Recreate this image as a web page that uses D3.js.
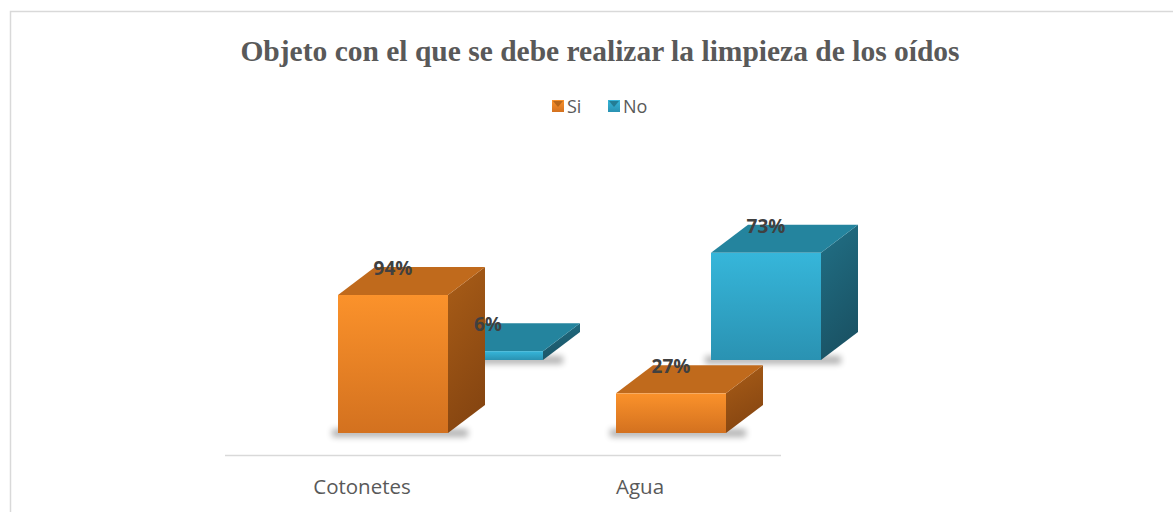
<!DOCTYPE html>
<html lang="en">
<head>
<meta charset="UTF-8" />
<title>Objeto con el que se debe realizar la limpieza de los oídos</title>
<script src="https://cdn.jsdelivr.net/npm/d3@7"></script>
<style>
  body { margin: 0; background: #fff; }
  svg { display: block; }
</style>
</head>
<body>
<div id="chart"></div>
<script>
const categories = ["Cotonetes", "Agua"];
const seriesNames = ["Si", "No"];
const siValues = [94, 27];
const noValues = [6, 73];

const width = 1173, height = 512;
const series = [
  { name: seriesNames[0], values: siValues, front: ["#fb922b", "#d3711f"], top: "#c06a1c", side: ["#a95d17", "#874611"] },
  { name: seriesNames[1], values: noValues, front: ["#36b6da", "#2a92b2"], top: "#24849e", side: ["#217086", "#1a5365"] }
];

const svg = d3.select("#chart").append("svg")
  .attr("width", width).attr("height", height);

// outer border
svg.append("rect")
  .attr("x", 10.5).attr("y", 11.5)
  .attr("width", width + 10).attr("height", height + 10)
  .attr("fill", "none").attr("stroke", "#d9d9d9").attr("stroke-width", 1.5);

const defs = svg.append("defs");
series.forEach((s, i) => {
  const gf = defs.append("linearGradient").attr("id", "front" + i)
    .attr("x1", 0).attr("y1", 0).attr("x2", 0).attr("y2", 1);
  gf.append("stop").attr("offset", "0%").attr("stop-color", s.front[0]);
  gf.append("stop").attr("offset", "100%").attr("stop-color", s.front[1]);
  const gs = defs.append("linearGradient").attr("id", "side" + i)
    .attr("x1", 0).attr("y1", 0).attr("x2", 0.3).attr("y2", 1);
  gs.append("stop").attr("offset", "0%").attr("stop-color", s.side[0]);
  gs.append("stop").attr("offset", "100%").attr("stop-color", s.side[1]);
});
defs.append("filter").attr("id", "blur")
  .attr("x", "-20%").attr("y", "-100%").attr("width", "140%").attr("height", "300%")
  .append("feGaussianBlur").attr("stdDeviation", 3);

// title
svg.append("text")
  .attr("x", 600).attr("y", 61)
  .attr("text-anchor", "middle")
  .attr("font-family", "'Liberation Serif', 'Times New Roman', serif")
  .attr("font-weight", "bold").attr("font-size", 29.5)
  .attr("fill", "#595959")
  .text("Objeto con el que se debe realizar la limpieza de los oídos");

// legend
const legend = svg.append("g").attr("font-family", "'Open Sans', 'Liberation Sans', sans-serif")
  .attr("font-size", 18).attr("fill", "#595959");
const legendX = [552, 608];
series.forEach((s, i) => {
  const g = legend.append("g").attr("transform", `translate(${legendX[i]},100)`);
  g.append("rect").attr("width", 12).attr("height", 12).attr("fill", `url(#front${i})`);
  g.append("path").attr("d", "M1,1 L11,1 L6,7 Z").attr("fill", s.side[0]).attr("opacity", 0.8);
  g.append("text").attr("x", 15).attr("y", 13).text(s.name);
});

// scales
const plotLeft = 225, plotRight = 781, baseY = 433;
const x = d3.scaleBand().domain(categories).range([plotLeft, plotRight]);
const h = d3.scaleLinear().domain([0, 100]).range([0, 146.8]);
const depth = d3.scaleLinear().domain([0, 1]).range([0, 1]); // series row index
const rowDx = 95, rowDy = -73;   // offset between series rows
const barW = 110, barDx = 37, barDy = -28;
const frontOffset = 113;

// axis line
svg.append("line")
  .attr("x1", plotLeft).attr("x2", plotRight)
  .attr("y1", 455.5).attr("y2", 455.5)
  .attr("stroke", "#d9d9d9").attr("stroke-width", 1.5);

// category labels
svg.append("g").selectAll("text").data(categories).join("text")
  .attr("x", d => x(d) + x.bandwidth() / 2 - 2)
  .attr("y", 494)
  .attr("text-anchor", "middle")
  .attr("font-family", "'Open Sans', 'Liberation Sans', sans-serif")
  .attr("font-size", 20.5).attr("fill", "#595959")
  .text(d => d);

// bars: back row first
const bars = [];
series.forEach((s, si) => {
  categories.forEach((c, ci) => {
    bars.push({ si, ci, value: s.values[ci], cat: c });
  });
});
bars.sort((a, b) => b.si - a.si || a.ci - b.ci);

const gBars = svg.append("g");
bars.forEach(d => {
  const x0 = x(d.cat) + frontOffset + depth(d.si) * rowDx;
  const yb = baseY + depth(d.si) * rowDy;
  const bh = h(d.value);
  const yt = yb - bh;
  const g = gBars.append("g");
  // shadow
  g.append("rect")
    .attr("x", x0 - 6).attr("y", yb - 4)
    .attr("width", barW + barDx * 0.7).attr("height", 8)
    .attr("fill", "#000").attr("opacity", 0.3)
    .attr("filter", "url(#blur)");
  // side face
  g.append("path")
    .attr("d", `M${x0 + barW},${yt} L${x0 + barW + barDx},${yt + barDy} L${x0 + barW + barDx},${yb + barDy} L${x0 + barW},${yb} Z`)
    .attr("fill", `url(#side${d.si})`);
  // top face
  g.append("path")
    .attr("d", `M${x0},${yt} L${x0 + barDx},${yt + barDy} L${x0 + barW + barDx},${yt + barDy} L${x0 + barW},${yt} Z`)
    .attr("fill", series[d.si].top);
  // front face
  g.append("rect")
    .attr("x", x0).attr("y", yt)
    .attr("width", barW).attr("height", bh)
    .attr("fill", `url(#front${d.si})`);
});

// data labels
svg.append("g").selectAll("text").data(bars).join("text")
  .attr("x", d => x(d.cat) + frontOffset + depth(d.si) * rowDx + barW / 2)
  .attr("y", d => baseY + depth(d.si) * rowDy - h(d.value) + barDy + 8)
  .attr("text-anchor", "middle")
  .attr("font-family", "'Open Sans', 'Liberation Sans', sans-serif")
  .attr("font-weight", "bold").attr("font-size", 19)
  .attr("fill", "#404040")
  .text(d => d.value + "%");
</script>
</body>
</html>
